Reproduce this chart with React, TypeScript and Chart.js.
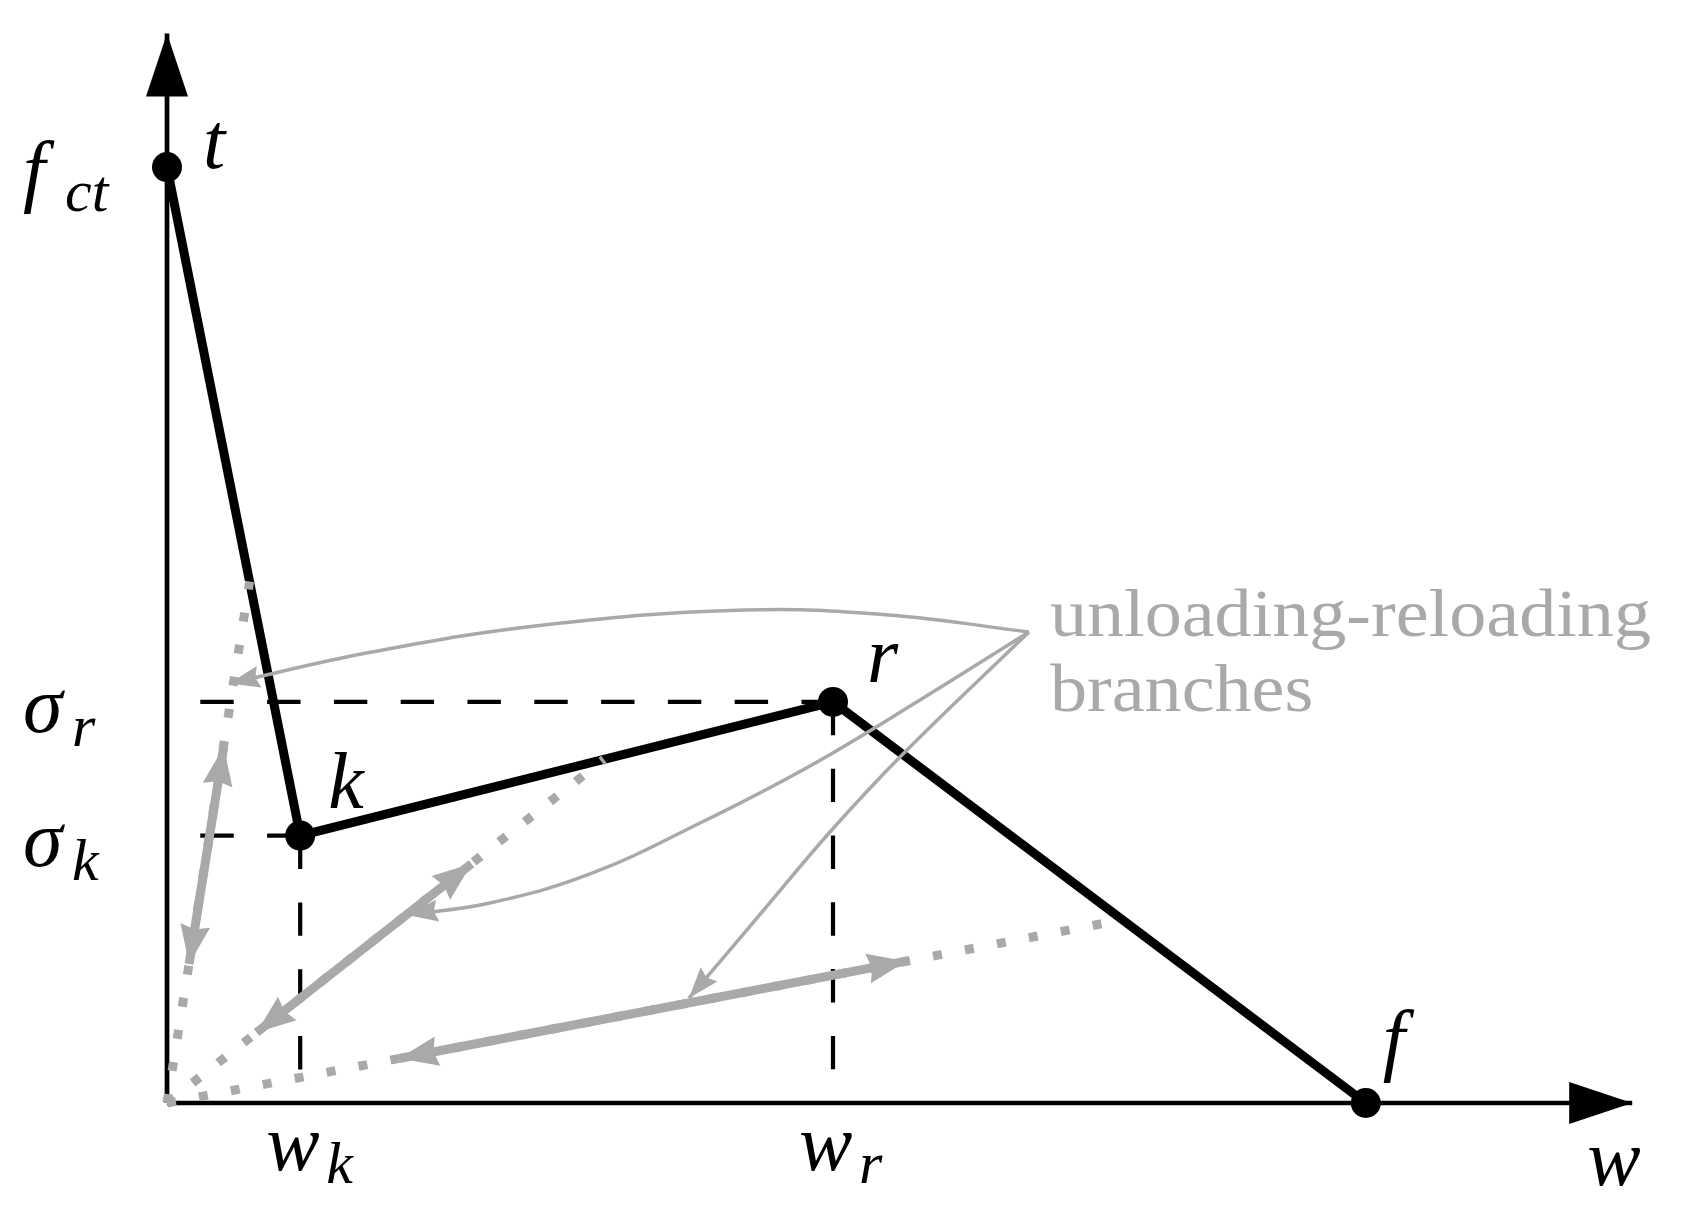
import React, { useEffect, useRef } from 'react';
import { Chart, registerables } from 'chart.js';

Chart.register(...registerables);

// ---------- data ----------
// softening envelope t -> k -> r -> f  (w, sigma)
const envelopeW = [0, 1, 5, 9];
const envelopeSigma = [7, 2, 3, 0];
const pointNames = ['t', 'k', 'r', 'f'];

// characteristic values
const fct = 7;
const wK = 1;
const wR = 5;
const sigmaK = 2;
const sigmaR = 3;
const dashStartW = 0.25;

// axis extents
const axisXMax = 11;
const axisYMax = 8;

// unloading-reloading branches: dotted from origin to a point on the envelope
const branchEndW = [0.62, 3.28, 7.17];
const branchEndS = [3.9, 2.57, 1.37];
// solid double-headed arrows lying on the branches
const arrowFromW = [0.166, 0.673, 1.743];
const arrowFromS = [1.04, 0.527, 0.333];
const arrowToW = [0.426, 2.286, 5.551];
const arrowToS = [2.665, 1.789, 1.061];

// callout curves from the annotation to each branch
const calloutAW = [6.471, 5.42, 4.339, 2.83, 1.539, 0.465];
const calloutAS = [3.523, 3.65, 3.687, 3.575, 3.373, 3.138];
const calloutBW = [6.471, 5.653, 4.827, 4.002, 3.176, 2.425, 1.802];
const calloutBS = [3.523, 3.014, 2.521, 2.094, 1.713, 1.496, 1.406];
const calloutCW = [6.471, 5.518, 4.977, 4.474, 4.091, 3.919];
const calloutCS = [3.523, 2.603, 2.027, 1.436, 0.987, 0.785];

// tick-like math labels
const yTickValues = [fct, sigmaR, sigmaK];
const yTickMain = ['f', 'σ', 'σ'];
const yTickSub = ['ct', 'r', 'k'];
const xTickValues = [wK, wR];
const xTickMain = ['w', 'w'];
const xTickSub = ['k', 'r'];
const xAxisTitle = 'w';
const annotationLines = ['unloading-reloading', 'branches'];

// ---------- layout / style constants ----------
const W = 1692;
const H = 1217;
const KX = 133.2;
const KY = 133.7;
const X0 = 167;
const Y0 = 1103;
const XMIN = -X0 / KX;
const XMAX = XMIN + W / KX;
const YMAX = Y0 / KY;
const YMIN = YMAX - H / KY;
const GRAY = '#a9a9a9';
const BLACK = '#000000';
const MATH = '"Liberation Serif", "Times New Roman", serif';

function drawHead(ctx: CanvasRenderingContext2D, from: any, to: any, h: any) {
  const dx = to.x - from.x;
  const dy = to.y - from.y;
  const L = Math.hypot(dx, dy) || 1;
  const ux = dx / L;
  const uy = dy / L;
  const nx = -uy;
  const ny = ux;
  const bx = to.x - ux * h.len;
  const by = to.y - uy * h.len;
  ctx.beginPath();
  ctx.moveTo(to.x, to.y);
  ctx.lineTo(bx + nx * h.half, by + ny * h.half);
  ctx.lineTo(to.x - ux * (h.len - h.notch), to.y - uy * (h.len - h.notch));
  ctx.lineTo(bx - nx * h.half, by - ny * h.half);
  ctx.closePath();
  ctx.fillStyle = h.color;
  ctx.fill();
}

const arrowPlugin = {
  id: 'arrowHeads',
  afterDatasetsDraw(chart: any) {
    const ctx = chart.ctx;
    ctx.save();
    chart.data.datasets.forEach((ds: any, i: number) => {
      const h = ds.head;
      if (!h) return;
      const pts = chart.getDatasetMeta(i).data;
      if (pts.length < 2) return;
      if (h.end) drawHead(ctx, pts[pts.length - 2], pts[pts.length - 1], h);
      if (h.start) drawHead(ctx, pts[1], pts[0], h);
    });
    ctx.restore();
  },
};

const labelPlugin = {
  id: 'mathLabels',
  afterDraw(chart: any) {
    const ctx: CanvasRenderingContext2D = chart.ctx;
    const sx = chart.scales.x;
    const sy = chart.scales.y;
    const px = (v: number) => sx.getPixelForValue(v);
    const py = (v: number) => sy.getPixelForValue(v);
    ctx.save();
    ctx.textBaseline = 'alphabetic';
    ctx.textAlign = 'left';
    ctx.fillStyle = BLACK;
    const main = `italic 80px ${MATH}`;
    const sub = `italic 60px ${MATH}`;

    // y-side labels
    const subDx = [42, 49, 49];
    yTickValues.forEach((v, i) => {
      const left = px(0) - 144;
      const base = py(v) + 30;
      ctx.font = main;
      ctx.fillText(yTickMain[i], left, base);
      ctx.font = sub;
      ctx.fillText(yTickSub[i], left + subDx[i], base + 14);
    });

    // x-side labels
    xTickValues.forEach((v, i) => {
      const left = px(v) - 34;
      const base = py(0) + 67;
      ctx.font = main;
      ctx.fillText(xTickMain[i], left, base);
      ctx.font = sub;
      ctx.fillText(xTickSub[i], left + 60, base + 13);
    });

    // axis title
    ctx.font = main;
    ctx.fillText(xAxisTitle, px(axisXMax) - 45, py(0) + 82);

    // point names
    const offs = [
      [36, 1],
      [28, -28],
      [34, -20],
      [17, -37],
    ];
    pointNames.forEach((n, i) => {
      ctx.font = main;
      ctx.fillText(n, px(envelopeW[i]) + offs[i][0], py(envelopeSigma[i]) + offs[i][1]);
    });

    // annotation
    ctx.fillStyle = GRAY;
    ctx.font = `68px ${MATH}`;
    const ax = px(calloutAW[0]) + 21;
    const ay = py(calloutAS[0]) + 4;
    const w0 = ctx.measureText(annotationLines[0]).width;
    const k = 601 / w0;
    annotationLines.forEach((t, i) => {
      ctx.save();
      ctx.translate(ax, ay + i * 75);
      ctx.scale(k, 1);
      ctx.fillText(t, 0, 0);
      ctx.restore();
    });
    ctx.restore();
  },
};

export default function App() {
  const ref = useRef<HTMLCanvasElement>(null);

  useEffect(() => {
    const canvas = ref.current;
    if (!canvas) return;
    const pts = (xs: number[], ys: number[]) => xs.map((x, i) => ({ x, y: ys[i] }));
    const line = (data: any[], color: string, width: number, extra: any = {}) => ({
      data,
      borderColor: color,
      backgroundColor: color,
      borderWidth: width,
      pointRadius: 0,
      pointHoverRadius: 0,
      showLine: true,
      fill: false,
      tension: 0,
      borderCapStyle: 'butt',
      ...extra,
    });

    const datasets: any[] = [];
    const thinHead = { end: true, len: 31, half: 11, notch: 4, color: GRAY };
    [
      [calloutAW, calloutAS],
      [calloutBW, calloutBS],
      [calloutCW, calloutCS],
    ].forEach(([xs, ys]) =>
      datasets.push(line(pts(xs, ys), GRAY, 3.5, { tension: 0.4, order: 0, head: thinHead }))
    );
    for (let i = 0; i < 3; i++) {
      datasets.push(
        line(
          [
            { x: arrowFromW[i], y: arrowFromS[i] },
            { x: arrowToW[i], y: arrowToS[i] },
          ],
          GRAY,
          9,
          { order: 1, head: { start: true, end: true, len: 39, half: 15, notch: 4, color: GRAY } }
        )
      );
    }
    for (let i = 0; i < 3; i++) {
      datasets.push(
        line(
          [
            { x: 0, y: 0 },
            { x: branchEndW[i], y: branchEndS[i] },
          ],
          GRAY,
          9,
          { order: 2, borderDash: [9, 23.5] }
        )
      );
    }
    datasets.push(
      line(pts(envelopeW, envelopeSigma), BLACK, 9, {
        order: 3,
        pointRadius: 15,
        pointHoverRadius: 15,
        pointBackgroundColor: BLACK,
        pointBorderWidth: 0,
        borderJoinStyle: 'round',
      })
    );
    const dash = { order: 4, borderDash: [33.4, 33.4] };
    datasets.push(line([{ x: dashStartW, y: sigmaR }, { x: wR, y: sigmaR }], BLACK, 4.2, dash));
    datasets.push(line([{ x: dashStartW, y: sigmaK }, { x: wK, y: sigmaK }], BLACK, 4.2, dash));
    datasets.push(line([{ x: wK, y: sigmaK }, { x: wK, y: 0 }], BLACK, 4.2, dash));
    datasets.push(line([{ x: wR, y: sigmaR }, { x: wR, y: 0 }], BLACK, 4.2, dash));
    const axisHead = { end: true, len: 63, half: 21, notch: 0, color: BLACK };
    datasets.push(line([{ x: 0, y: 0 }, { x: axisXMax, y: 0 }], BLACK, 4.7, { order: 5, head: axisHead }));
    datasets.push(line([{ x: 0, y: 0 }, { x: 0, y: axisYMax }], BLACK, 4.7, { order: 5, head: axisHead }));

    const chart = new Chart(canvas, {
      type: 'scatter',
      data: { datasets },
      options: {
        animation: false,
        responsive: false,
        maintainAspectRatio: false,
        devicePixelRatio: 1,
        events: [],
        layout: { autoPadding: false, padding: 0 },
        plugins: { legend: { display: false }, tooltip: { enabled: false } },
        scales: {
          x: { type: 'linear', min: XMIN, max: XMAX, display: false },
          y: { type: 'linear', min: YMIN, max: YMAX, display: false },
        },
      } as any,
      plugins: [arrowPlugin, labelPlugin],
    });
    return () => chart.destroy();
  }, []);

  return (
    <canvas
      ref={ref}
      width={W}
      height={H}
      style={{ position: 'fixed', left: 0, top: 0, width: W, height: H, background: '#fff' }}
    />
  );
}
